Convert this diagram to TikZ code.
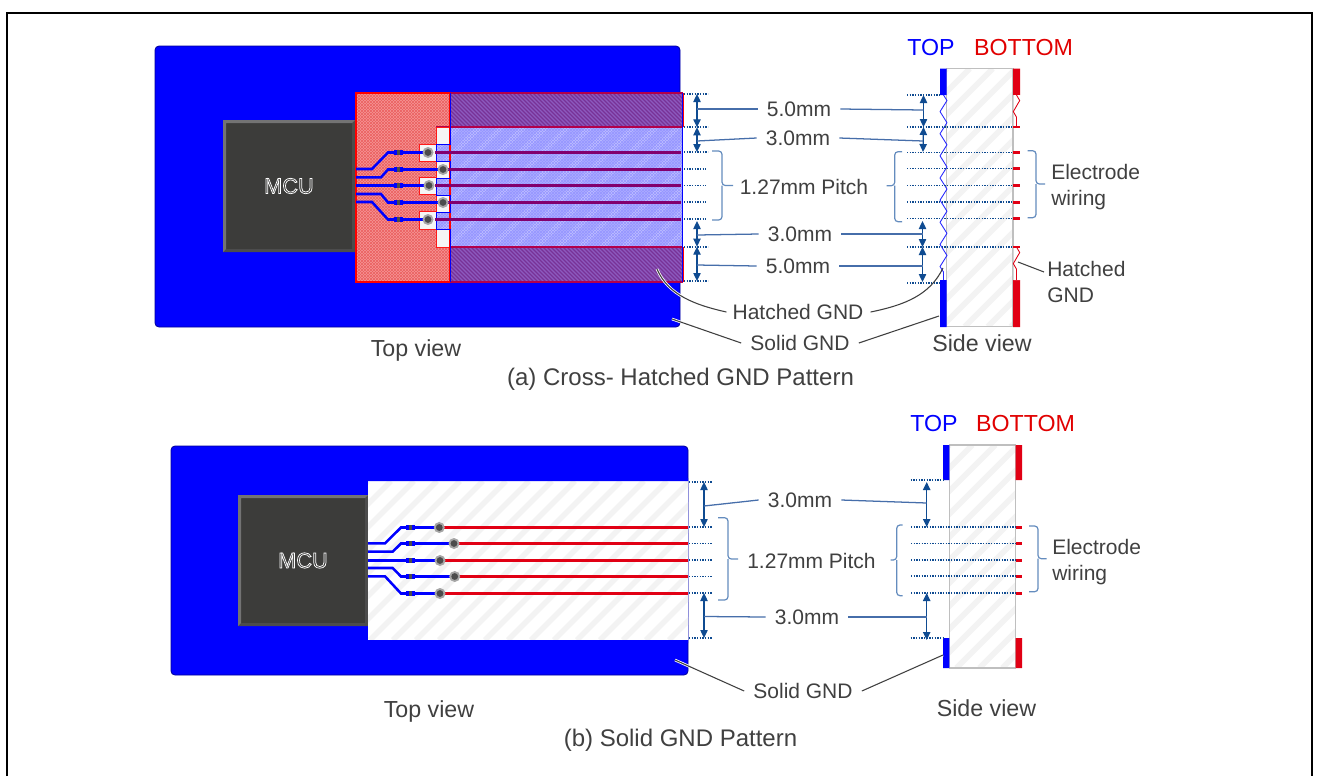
\documentclass[tikz,border=0pt]{standalone}
\usepackage{fontspec}
\setmainfont{Liberation Sans}
\usetikzlibrary{arrows.meta,decorations.pathmorphing}
\definecolor{txt}{RGB}{64,64,64}
\definecolor{bblue}{RGB}{0,0,255}
\definecolor{bred}{RGB}{225,0,20}
\definecolor{tagred}{RGB}{225,0,0}
\definecolor{arrowc}{RGB}{15,75,145}
\definecolor{leadc}{RGB}{70,110,170}
\definecolor{bracec}{RGB}{100,140,190}
\definecolor{stripec}{RGB}{243,243,243}
\definecolor{tracep}{RGB}{130,0,110}
\definecolor{mcuc}{RGB}{60,60,58}
\definecolor{purplebase}{RGB}{140,90,190}
\definecolor{purpleline}{RGB}{120,50,150}
\definecolor{redbase}{RGB}{245,150,150}
\definecolor{redline}{RGB}{235,95,95}
\definecolor{bluebase}{RGB}{172,172,255}
\definecolor{bluestripe}{RGB}{192,192,255}
\definecolor{blueline}{RGB}{150,150,255}
\newcommand\fs[1]{\fontsize{#1}{#1}\selectfont}
\newcommand\hatchln[7]{%
  \begin{scope}
  \clip (#1,#2) rectangle (#3,#4);
  \pgfmathsetmacro\hA{#1-(#4-#2)}
  \pgfmathsetmacro\hB{\hA+#5}
  \foreach \s in {\hA,\hB,...,#3}{%
    \pgfmathsetmacro\sE{\s+(#4-#2)}
    \ifnum#7=1 \draw[#6] (\s,#4) -- (\sE,#2);\else \draw[#6] (\s,#2) -- (\sE,#4);\fi
  }
  \end{scope}}
\newcommand\mcu[5]{%
  \fill[mcuc] (#1,#2) rectangle (#3,#4);
  \fill[black!70] (#1,#4) -- (#3,#4) -- (#3,#2) -- ++(-3,3) |- ([shift={(3,-3)}]#1,#4) -- cycle;
  \fill[black!55] (#1,#2) -- (#3,#2) -- ++(-3,3) -| ([shift={(3,-3)}]#1,#4) -- (#1,#4) -- cycle;
  \node[mcut] (#5) at ({(#1+#3)/2},{(#2+#4)/2}) {\special{pdf:code q 1 Tr 0.55 w 1 1 1 RG}MCU\special{pdf:code Q}};}
\newcommand\mybrace[6]{%
  \draw[bracel] (#1,#4) -- (#2,#4) -- (#2,#5) -- (#3,#5);
  \draw[bracel] (#1,#6) -- (#2,#6) -- (#2,#5);}
\newcommand\via[2]{\fill[gray!70] (#1,#2) circle (5.5); \fill[black!70] (#1,#2) circle (3.4);}
\newcommand\res[3]{\fill[bblue] (#1,#2-2.5) rectangle (#1+9,#2+2.5); \fill[black!70] (#1+3,#2-2.5) rectangle (#1+6,#2+2.5);}
\tikzset{
  lbl/.style={text=txt,inner sep=0pt,font=\fs{15.75}},
  bigtxt/.style={text=txt,inner sep=0pt,font=\fs{17.4}},
  captxt/.style={text=txt,inner sep=0pt,font=\fs{18}},
  lblgap/.style={lbl,inner xsep=6.75pt},
  mcut/.style={inner sep=0pt,font=\fs{16.3},text=white},
  leader/.style={leadc,line width=.95pt},
  blackl/.style={black!75,line width=.8pt,preaction={draw=white,line width=2pt}},
  dotline/.style={arrowc,line width=.9pt,dash pattern=on .9pt off 1.1pt},
  dimarrow/.style={arrowc,line width=.95pt,{Triangle[width=5.5pt,length=6pt]}-{Triangle[width=5.5pt,length=6pt]},shorten >=0pt,shorten <=0pt},
  bracel/.style={bracec,line width=.9pt,rounded corners=2.5pt},
  btrace/.style={bblue,line width=1.9pt},
  ptrace/.style={tracep,line width=2.25pt},
  rtrace/.style={bred,line width=2.25pt},
  stripehatch/.style={stripec,line width=4.2pt},
  bstripe/.style={bluestripe,line width=4.2pt},
  rh/.style={redline,line width=.5pt},
  bh/.style={blueline,line width=.4pt},
  ph/.style={purpleline,line width=.9pt},
  zigb/.style={blue!85,line width=.65pt,decorate,decoration={zigzag,segment length=16.6,amplitude=2.6}},
  zigr/.style={bred,line width=.65pt,decorate,decoration={zigzag,segment length=16.6,amplitude=2.4}},
}
\begin{document}
\begin{tikzpicture}[x=.75pt,y=-.75pt]
\useasboundingbox (0,0) rectangle (1318,776);
\fill[white] (0,0) rectangle (1318,776);
\draw[black,line width=1.5pt] (7,776) -- (7,12.5) -- (1312,12.5) -- (1312,776);

%% ---------- (a) top view
\fill[bblue,draw=black!40!blue,line width=.6pt,rounded corners=3pt] (155,46) rectangle (680,327);
\mcu{223}{120}{355}{252}{mcua}
\fill[redbase] (356,93) rectangle (450,282);
\hatchln{356}{93}{450}{282}{3}{rh}{1}
\hatchln{356}{93}{450}{282}{3}{rh}{0}
\fill[purplebase] (450,93) rectangle (682,282);
\hatchln{450}{93}{682}{282}{4}{ph}{0}
\fill[bluebase] (436,127) rectangle (682,247);
\hatchln{436}{127}{682}{247}{22}{bstripe}{1}
\hatchln{436}{127}{682}{247}{3}{bh}{1}
\hatchln{436}{127}{682}{247}{3}{bh}{0}
\draw[red!70!blue,line width=.8pt] (436,127) -- (682,127) (436,247) -- (682,247);
\foreach \xa/\ya/\xb/\yb in {436/127/450/144,436/161/450/178,419/144/436/161,419/177/436/194,436/195/450/212,419/211/436/229,436/229/450/247}{
  \fill[white!96!black,draw=red!90,line width=.75pt] (\xa,\ya) rectangle (\xb,\yb);}
\draw[red,line width=1pt] (356,93) rectangle (450,282);
\draw[red!70!blue,line width=1pt] (450,93) -- (683,93) (450,282) -- (683,282);
\draw[red,line width=1pt] (683,93) -- (683,127) (683,247) -- (683,282);
\draw[bblue,line width=.7pt] (450,93) -- (450,144) -- (436,144) -- (436,161) -- (450,161) -- (450,178) -- (436,178) -- (436,195) -- (450,195) -- (450,212) -- (436,212) -- (436,229) -- (450,229) -- (450,282);
\draw[bblue,line width=.7pt] (682,93) -- (682,282);
\foreach \yy/\xx in {152.5/435,169.5/443,185.5/435,202.5/443,219.5/435}{\draw[ptrace] (\xx,\yy) -- (681,\yy);}
\draw[btrace] (356,169) -- (372,169) -- (388,152.5) -- (428,152.5);
\draw[btrace] (356,177.3) -- (381,177.3) -- (388,169.5) -- (443,169.5);
\draw[btrace] (356,185.5) -- (429,185.5);
\draw[btrace] (356,194) -- (381,194) -- (388,202.5) -- (443,202.5);
\draw[btrace] (356,202) -- (372,202) -- (388,219.5) -- (428,219.5);
\foreach \yy in {152.5,169.5,185.5,202.5,219.5}{\res{394}{\yy}{}}
\via{428}{152.5}\via{443}{169.5}\via{429}{185.5}\via{443}{202.5}\via{428}{219.5}

%% (a) right-of-board dimensions
\foreach \yy in {94,127,152,247,281}{\draw[dotline] (684,\yy) -- (708,\yy);}
\foreach \yy in {169,185.5,202,219}{\draw[dotline] (684,\yy) -- (706,\yy);}
\coordinate (dA1) at (697,94);\coordinate (dA2) at (697,127.3);\coordinate (dA3) at (697,152);
\coordinate (dA4) at (697,221);\coordinate (dA5) at (697,246.7);\coordinate (dA6) at (697,281);
\draw[dimarrow] (dA1) -- (dA2);
\draw[dimarrow] (dA2) -- (dA3);
\draw[dimarrow] (dA4) -- (dA5);
\draw[dimarrow] (dA5) -- (dA6);
\mybrace{712}{722}{733}{151}{185.5}{220}

%% (a) side view
\fill[white] (946.7,68.7) rectangle (1013,326.7);
\hatchln{946.7}{68.7}{1013}{326.7}{23}{stripehatch}{1}
\draw[black!25,line width=.9pt] (946.7,68.7) rectangle (1013,326.7);
\fill[white] (940,95) rectangle (946.3,280);
\fill[bblue] (940,68.7) rectangle (946.7,95) (940,280) rectangle (946.7,327);
\fill[bred] (1013,68.7) rectangle (1020,95) (1013,280) rectangle (1020,327);
\fill[white] (1013.5,95) rectangle (1020,127) (1013.5,247) rectangle (1020,280);
\draw[zigb] (943.5,95) -- (943.5,280);
\draw[zigr] (1016.5,95) -- (1016.5,127);
\draw[zigr] (1016.5,247) -- (1016.5,280);
\draw[bred,line width=1pt] (1013,127) -- (1020,127) (1013,247) -- (1020,247);
\foreach \yy in {152.5,168.5,185.5,202,218.5}{\fill[bred] (1013,\yy-1.5) rectangle (1020,\yy+1.5);}
\draw[dotline] (907,95) -- (940,95);
\draw[dotline] (907,283) -- (940,283);
\foreach \yy in {127,152.5,168.5,185.5,202,218.5,247}{\draw[dotline] (907,\yy) -- (1013,\yy);}
\coordinate (dB1) at (923.5,95);\coordinate (dB2) at (923.5,127);\coordinate (dB3) at (923,152);
\coordinate (dB4) at (922.5,221);\coordinate (dB5) at (922.5,247);\coordinate (dB6) at (922.5,282);
\draw[dimarrow] (dB1) -- (dB2);
\draw[dimarrow] (dB2) -- (dB3);
\draw[dimarrow] (dB4) -- (dB5);
\draw[dimarrow] (dB5) -- (dB6);
\mybrace{902}{894.7}{886.7}{151.7}{185.7}{221.7}
\mybrace{1027.7}{1036}{1045}{150.7}{184}{217.7}

%% (a) labels
\node[bigtxt,text=bblue] (topa) at (931,48) {TOP};
\node[bigtxt,text=tagred] (bota) at (1023.5,48) {BOTTOM};
\node[lblgap] (fa1) at (799,109) {5.0mm};
\node[lblgap] (fa2) at (798,138) {3.0mm};
\node[lbl] (pa) at (804,187) {1.27mm Pitch};
\node[lblgap] (fa3) at (800,234) {3.0mm};
\node[lblgap] (fa4) at (798,266) {5.0mm};
\node[lbl,align=left,anchor=west,font=\fontsize{15.75}{19.6}\selectfont] (ea) at (1051,187) {Electrode\\wiring};
\node[lbl,align=left,anchor=west,font=\fontsize{15.75}{19.6}\selectfont] (ha) at (1047,282) {Hatched\\GND};
\node[lblgap] (hg) at (798,312) {Hatched GND};
\node[lblgap] (sga) at (800,343) {Solid GND};
\node[bigtxt] (tva) at (416,350) {Top view};
\node[bigtxt] (sva) at (982,343) {Side view};
\node[captxt] (capa) at (680.5,379) {(a) Cross- Hatched GND Pattern};
\coordinate (la1) at (697,109);\coordinate (ra1) at (923.5,110);
\coordinate (la2) at (697,141);\coordinate (ra2) at (923,141);
\coordinate (la3) at (697,235);\coordinate (ra3) at (922.5,234);
\coordinate (la4) at (697,265);\coordinate (ra4) at (922.5,266);
\draw[leader] (la1) -- (fa1.west); \draw[leader] (fa1.east) -- (ra1);
\draw[leader] (la2) -- (fa2.west); \draw[leader] (fa2.east) -- (ra2);
\draw[leader] (la3) -- (fa3.west); \draw[leader] (fa3.east) -- (ra3);
\draw[leader] (la4) -- (fa4.west); \draw[leader] (fa4.east) -- (ra4);
\coordinate (hgL) at (657,269);\coordinate (hgR) at (943,268);
\coordinate (sgL) at (672,319);\coordinate (sgR) at (939,316);
\coordinate (hrL) at (1018,262);\coordinate (hrR) at (1044,272);
\draw[blackl] (hgL) .. controls (668,295) and (695,305) .. ([xshift=2.25pt]hg.west);
\draw[black!75,line width=.8pt] ([xshift=-1.5pt]hg.east) .. controls (905,305) and (930,295) .. (hgR);
\draw[blackl] (sgL) -- (sga.west);
\draw[blackl] (sga.east) -- (sgR);
\draw[black!75,line width=.8pt] (hrL) -- (hrR);

%% ---------- (b) top view
\fill[bblue,draw=black!40!blue,line width=.6pt,rounded corners=3pt] (171,446) rectangle (688,675);
\mcu{238}{495}{368}{626}{mcub}
\fill[white] (368,481) rectangle (688,640);
\hatchln{368}{481}{688}{640}{23}{stripehatch}{1}
\fill[bblue] (368,478) rectangle (688,481) (368,640) rectangle (688,643);
\foreach \yy/\xx in {527.5/439,543.5/454,560.5/440,576.5/455,593.5/440}{\draw[rtrace] (\xx,\yy) -- (688,\yy);}
\draw[btrace] (368,543.3) -- (385,543.3) -- (401,527.5) -- (439,527.5);
\draw[btrace] (368,551.7) -- (392.7,551.7) -- (401,543.5) -- (454,543.5);
\draw[btrace] (368,560.5) -- (440,560.5);
\draw[btrace] (368,568) -- (392.7,568) -- (401,576.5) -- (455,576.5);
\draw[btrace] (368,576.3) -- (385,576.3) -- (401,593.5) -- (440,593.5);
\foreach \yy in {527.5,543.5,560.5,576.5,593.5}{\res{406}{\yy}{}}
\via{439.3}{527.5}\via{454}{543.5}\via{440}{560.5}\via{454.7}{576.5}\via{440}{593.5}
\foreach \yy in {482,527,543.7,560,576.7,593,638}{\draw[dotline] (689,\yy) -- (712,\yy);}
\coordinate (dC1) at (704,482);\coordinate (dC2) at (704,527);\coordinate (dC3) at (704,593);\coordinate (dC4) at (704,638);
\draw[dimarrow] (dC1) -- (dC2);
\draw[dimarrow] (dC3) -- (dC4);
\mybrace{718}{728}{738}{517.7}{559}{600}

%% (b) side view
\fill[white] (949.3,445) rectangle (1015.7,668);
\hatchln{949.3}{445}{1015.7}{668}{23}{stripehatch}{1}
\draw[black!25,line width=.9pt] (949.3,445) rectangle (1015.7,668);
\fill[bblue] (943,445) rectangle (949.3,480) (943,638) rectangle (949.3,668);
\fill[bred] (1015.7,445) rectangle (1022,480) (1015.7,638) rectangle (1022,668);
\foreach \yy in {527,543.7,560,576,593}{\fill[bred] (1015.7,\yy-1.5) rectangle (1022,\yy+1.5);}
\draw[dotline] (910.7,480) -- (943,480);
\draw[dotline] (910.7,638) -- (943,638);
\foreach \yy in {527,543.7,560,576,593}{\draw[dotline] (911,\yy) -- (1015.7,\yy);}
\coordinate (dD1) at (926.7,482);\coordinate (dD2) at (926.7,527);\coordinate (dD3) at (926.7,593);\coordinate (dD4) at (926.7,640);
\draw[dimarrow] (dD1) -- (dD2);
\draw[dimarrow] (dD3) -- (dD4);
\mybrace{902.7}{896.7}{890.7}{525}{560}{595.7}
\mybrace{1029}{1038}{1046.7}{526}{558.7}{591.7}

%% (b) labels
\node[bigtxt,text=bblue] (topb) at (934,424) {TOP};
\node[bigtxt,text=tagred] (botb) at (1025.5,424) {BOTTOM};
\node[lblgap] (fb1) at (800,500) {3.0mm};
\node[lbl] (pb) at (811.5,561) {1.27mm Pitch};
\node[lblgap] (fb2) at (807,617) {3.0mm};
\node[lbl,align=left,anchor=west,font=\fontsize{15.75}{19.6}\selectfont] (eb) at (1052,562) {Electrode\\wiring};
\node[lblgap] (sgb) at (803,691) {Solid GND};
\node[bigtxt] (tvb) at (429,711) {Top view};
\node[bigtxt] (svb) at (986.5,708) {Side view};
\node[captxt] (capb) at (680.5,740) {(b) Solid GND Pattern};
\coordinate (lb1) at (704,506);\coordinate (rb1) at (926.7,503);
\coordinate (lb2) at (704,616.5);\coordinate (rb2) at (926.7,617);
\draw[leader] (lb1) -- (fb1.west); \draw[leader] (fb1.east) -- (rb1);
\draw[leader] (lb2) -- (fb2.west); \draw[leader] (fb2.east) -- (rb2);
\coordinate (sbL) at (675,660);\coordinate (sbR) at (943,655);
\draw[blackl] (sbL) -- (sgb.west);
\draw[blackl] (sgb.east) -- (sbR);
\end{tikzpicture}
\end{document}
